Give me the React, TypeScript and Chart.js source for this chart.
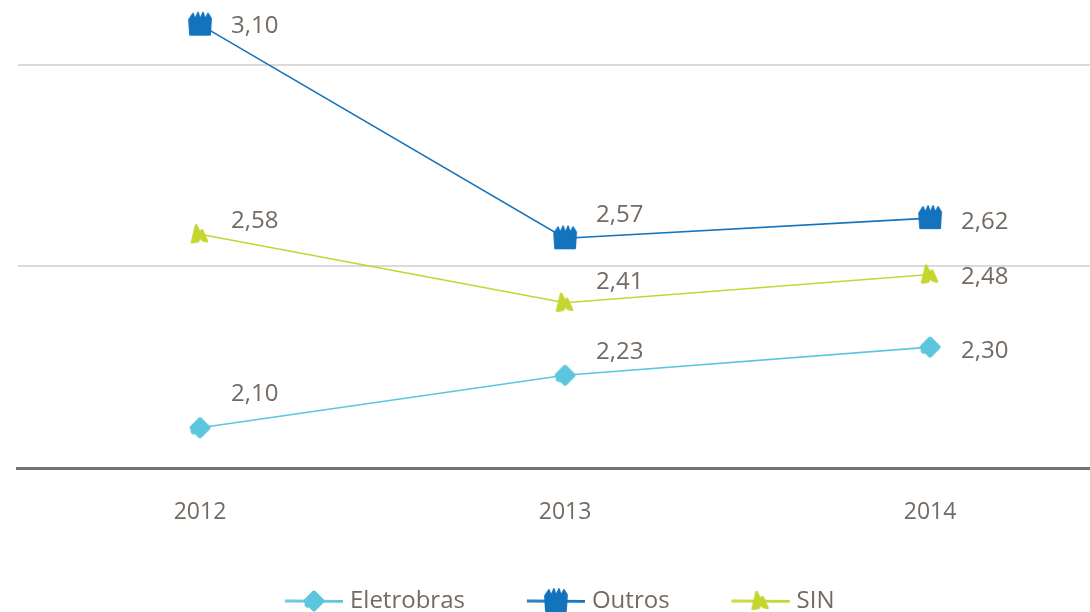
import { useEffect, useRef } from "react";
import { Chart, registerables } from "chart.js";
Chart.register(...registerables);

const years = [2012, 2013, 2014];
const seriesNames = ["Eletrobras", "Outros", "SIN"];
const eletrobras = [2.1, 2.23, 2.3];
const outros = [3.1, 2.57, 2.62];
const sin = [2.58, 2.41, 2.48];
const gridValues = [2.5, 3.0];

const eletrobrasLabelDy = [-34, -23, 4];
const outrosLabelDy = [2, -23, 4];
const sinLabelDy = [-13, -21, 3];

const COLORS = ["#5cc6de", "#1473bd", "#c5d630"];
const TEXT = "#736a62";
const FONT = "'Open Sans', 'Noto Sans', sans-serif";

function makeMarker(kind: number, color: string): HTMLCanvasElement {
  const c = document.createElement("canvas");
  c.width = 28;
  c.height = 28;
  const g = c.getContext("2d")!;
  g.fillStyle = color;
  g.strokeStyle = color;
  g.lineJoin = "round";
  g.lineCap = "round";
  if (kind === 0) {
    g.translate(14, 14);
    g.rotate(Math.PI / 4);
    g.lineWidth = 4;
    g.beginPath();
    g.rect(-6, -6, 12, 12);
    g.fill();
    g.stroke();
    g.beginPath();
    g.arc(-2, 7, 3, 0, Math.PI * 2);
    g.fill();
  } else if (kind === 1) {
    g.lineWidth = 1.8;
    g.beginPath();
    g.moveTo(4, 24);
    g.lineTo(3, 9);
    g.lineTo(7, 3);
    g.lineTo(9, 9);
    g.lineTo(12, 2);
    g.lineTo(14, 9);
    g.lineTo(17, 2);
    g.lineTo(19, 9);
    g.lineTo(22, 3);
    g.lineTo(25, 8);
    g.lineTo(24, 24);
    g.closePath();
    g.fill();
    g.stroke();
  } else {
    g.lineWidth = 2.5;
    g.beginPath();
    g.moveTo(6, 22);
    g.lineTo(10, 5);
    g.lineTo(14, 13);
    g.lineTo(16, 10);
    g.lineTo(21, 21);
    g.lineTo(17, 20);
    g.lineTo(14, 17);
    g.lineTo(12, 21);
    g.closePath();
    g.fill();
    g.stroke();
  }
  return c;
}

export default function App() {
  const ref = useRef<HTMLCanvasElement>(null);
  useEffect(() => {
    const markers = [0, 1, 2].map((k) => makeMarker(k, COLORS[k]));
    const values = [eletrobras, outros, sin];
    const dys = [eletrobrasLabelDy, outrosLabelDy, sinLabelDy];

    const labelPlugin = {
      id: "valueLabels",
      afterDatasetsDraw(chart: any) {
        const ctx = chart.ctx;
        ctx.save();
        ctx.font = `24px ${FONT}`;
        ctx.fillStyle = TEXT;
        ctx.textAlign = "left";
        ctx.textBaseline = "middle";
        chart.data.datasets.forEach((ds: any, i: number) => {
          const meta = chart.getDatasetMeta(i);
          meta.data.forEach((pt: any, j: number) => {
            const v = values[i][j];
            ctx.fillText(v.toFixed(2).replace(".", ","), pt.x + 31, pt.y + dys[i][j]);
          });
        });
        ctx.restore();
      },
    };

    const legendPlugin = {
      id: "customLegend",
      afterDraw(chart: any) {
        const ctx = chart.ctx;
        ctx.save();
        ctx.font = `24px ${FONT}`;
        ctx.textBaseline = "middle";
        ctx.textAlign = "left";
        let x = 285;
        const y = 601;
        chart.data.datasets.forEach((ds: any, i: number) => {
          ctx.strokeStyle = COLORS[i];
          ctx.lineWidth = 1.2;
          for (const off of [-1, 0, 1]) {
            ctx.beginPath();
            ctx.moveTo(x, y + off * 0.8);
            ctx.lineTo(x + 58, y + off * 0.8 + 0.3);
            ctx.stroke();
          }
          ctx.drawImage(markers[i], x + 29 - 14, y - 14);
          ctx.fillStyle = TEXT;
          ctx.fillText(ds.label, x + 65, y);
          x += 65 + ctx.measureText(ds.label).width + 62;
        });
        ctx.restore();
      },
    };

    const chart = new Chart(ref.current!, {
      type: "line",
      data: {
        datasets: seriesNames.map((name, i) => ({
          label: name,
          data: years.map((yr, j) => ({ x: yr, y: values[i][j] })),
          borderColor: COLORS[i],
          backgroundColor: COLORS[i],
          borderWidth: 1.6,
          pointStyle: markers[i] as any,
          pointRadius: 10,
          tension: 0,
          clip: false as any,
        })),
      },
      options: {
        animation: false,
        responsive: false,
        layout: { autoPadding: false, padding: { top: 4.5, left: 17.5, right: 0, bottom: 0 } },
        plugins: { legend: { display: false }, tooltip: { enabled: false } },
        scales: {
          x: {
            type: "linear",
            min: 2011.5,
            max: 2014.438,
            afterBuildTicks: (s: any) => {
              s.ticks = years.map((v) => ({ value: v }));
            },
            afterFit: (s: any) => {
              s.height = 144;
              s.paddingLeft = 0;
              s.paddingRight = 0;
            },
            grid: { display: false, drawTicks: false },
            border: { display: true, color: "#707572", width: 3 },
            ticks: {
              padding: 31,
              color: TEXT,
              font: { size: 23, family: FONT },
              callback: (v: any) => String(v),
            },
          },
          y: {
            min: 2,
            max: 3.15,
            afterBuildTicks: (s: any) => {
              s.ticks = [2, ...gridValues, 3.15].map((v) => ({ value: v }));
            },
            afterFit: (s: any) => {
              s.width = 0;
              s.paddingTop = 0;
              s.paddingBottom = 0;
            },
            ticks: { display: false },
            border: { display: false },
            grid: {
              drawTicks: false,
              lineWidth: 2,
              color: (c: any) =>
                c.tick && gridValues.includes(c.tick.value) ? "#dadada" : "rgba(0,0,0,0)",
            },
          },
        },
      },
      plugins: [labelPlugin, legendPlugin],
    });
    return () => chart.destroy();
  }, []);
  return (
    <div style={{ position: "absolute", left: 0, top: 0, width: 1090, height: 612, background: "#fff" }}>
      <canvas ref={ref} width={1090} height={612} style={{ display: "block" }} />
    </div>
  );
}
